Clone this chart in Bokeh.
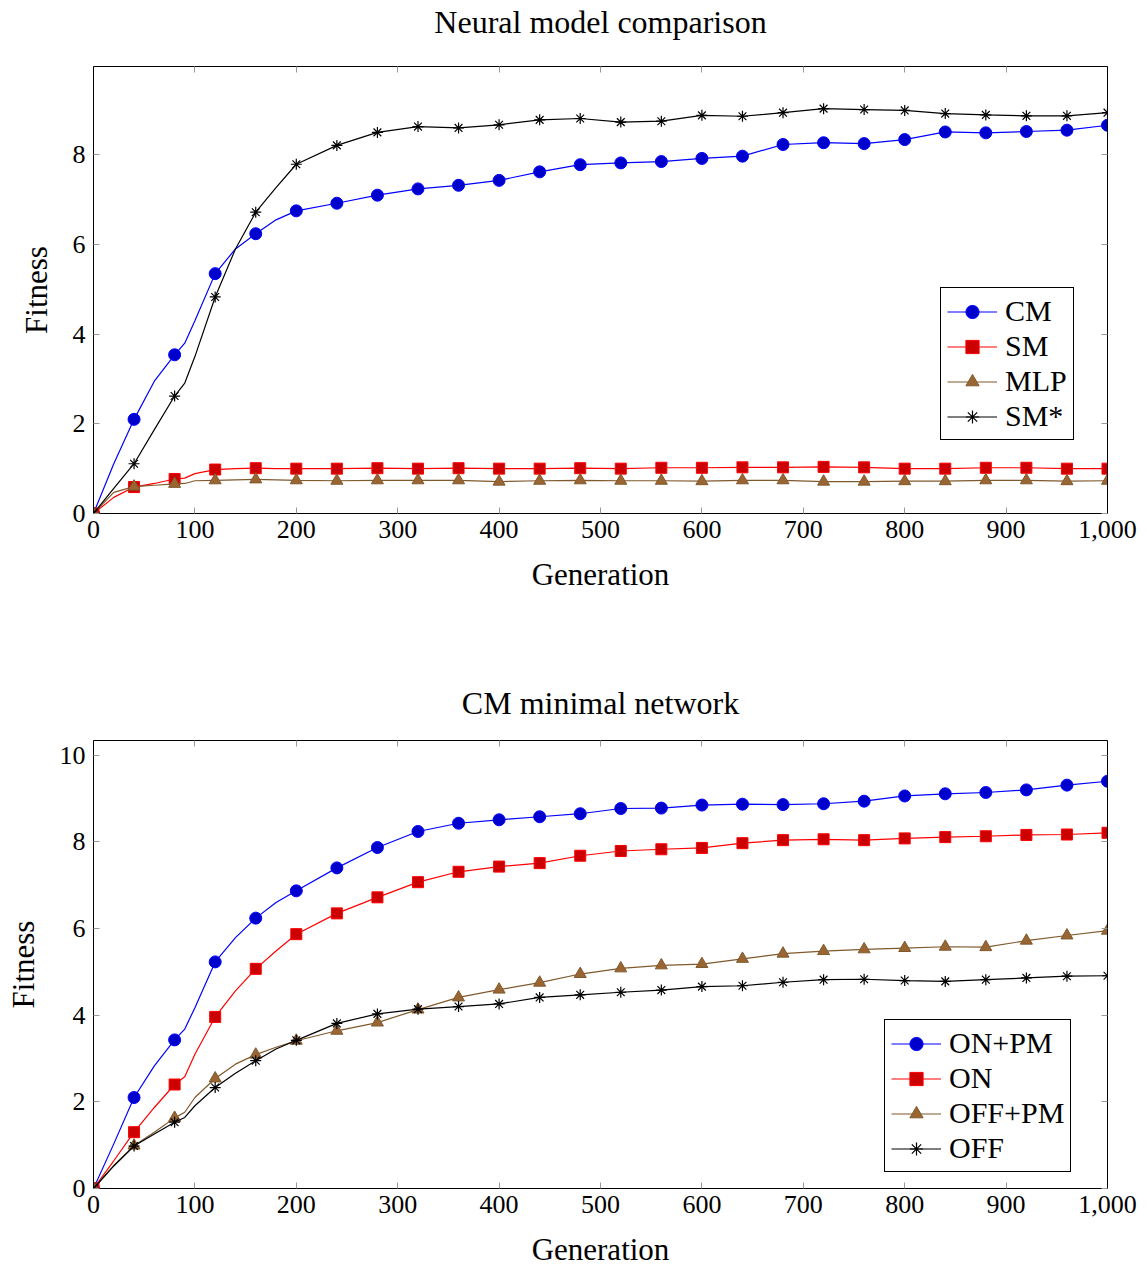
from bokeh.plotting import figure
from bokeh.layouts import column
from bokeh.models import (Range1d, FixedTicker, LinearAxis, NumeralTickFormatter,
                          Legend, LegendItem, ColumnDataSource, CustomLabelingPolicy)
from bokeh.embed import file_html
from bokeh.resources import INLINE

# ---------------- data ----------------
GEN = [0, 20, 40, 60, 80, 90, 100, 120, 140, 160, 180, 200,
       240, 280, 320, 360, 400, 440, 480, 520, 560, 600, 640, 680,
       720, 760, 800, 840, 880, 920, 960, 1000]

# Neural model comparison
CM = [0, 1.11, 2.10, 2.95, 3.54, 3.80, 4.30, 5.35, 5.90, 6.24, 6.55, 6.75,
      6.92, 7.10, 7.24, 7.32, 7.43, 7.62, 7.78, 7.82, 7.85, 7.92, 7.97, 8.23,
      8.27, 8.25, 8.34, 8.51, 8.49, 8.52, 8.55, 8.66]
SM = [0, 0.36, 0.59, 0.67, 0.77, 0.79, 0.89, 0.98, 1.00, 1.01, 1.00, 1.00,
      1.00, 1.01, 1.00, 1.01, 1.00, 1.00, 1.01, 1.00, 1.02, 1.02, 1.03, 1.03,
      1.04, 1.03, 1.00, 1.00, 1.02, 1.02, 1.00, 1.00]
MLP = [0, 0.47, 0.60, 0.63, 0.66, 0.67, 0.73, 0.74, 0.75, 0.76, 0.75, 0.74,
       0.73, 0.74, 0.74, 0.74, 0.71, 0.73, 0.74, 0.73, 0.73, 0.72, 0.74, 0.74,
       0.71, 0.71, 0.72, 0.72, 0.74, 0.74, 0.72, 0.73]
SM_STAR = [0, 0.56, 1.11, 1.87, 2.62, 2.91, 3.50, 4.83, 5.90, 6.72, 7.27, 7.79,
           8.21, 8.50, 8.63, 8.60, 8.67, 8.78, 8.81, 8.73, 8.75, 8.88, 8.86, 8.94,
           9.03, 9.01, 8.99, 8.92, 8.89, 8.87, 8.87, 8.94]

# CM minimal network
ON_PM = [0, 1.03, 2.10, 2.83, 3.43, 3.68, 4.17, 5.23, 5.79, 6.24, 6.60, 6.87,
         7.40, 7.87, 8.24, 8.43, 8.51, 8.58, 8.65, 8.77, 8.78, 8.85, 8.87, 8.86,
         8.88, 8.94, 9.06, 9.11, 9.14, 9.20, 9.31, 9.40]
ON = [0, 0.64, 1.30, 1.87, 2.40, 2.58, 3.10, 3.96, 4.56, 5.07, 5.48, 5.87,
      6.35, 6.72, 7.07, 7.31, 7.43, 7.51, 7.68, 7.79, 7.83, 7.86, 7.97, 8.04,
      8.06, 8.04, 8.08, 8.11, 8.13, 8.16, 8.17, 8.21]
OFF_PM = [0, 0.53, 0.99, 1.30, 1.63, 1.76, 2.10, 2.54, 2.87, 3.09, 3.26, 3.41,
          3.64, 3.83, 4.13, 4.41, 4.59, 4.75, 4.95, 5.08, 5.15, 5.18, 5.30, 5.42,
          5.48, 5.52, 5.55, 5.58, 5.57, 5.72, 5.84, 5.95]
OFF = [0, 0.52, 0.98, 1.26, 1.53, 1.64, 1.91, 2.33, 2.66, 2.95, 3.22, 3.42,
       3.81, 4.03, 4.14, 4.20, 4.26, 4.41, 4.47, 4.53, 4.58, 4.66, 4.68, 4.76,
       4.82, 4.83, 4.80, 4.78, 4.82, 4.86, 4.90, 4.91]

TITLES = ["Neural model comparison", "CM minimal network"]
X_TICKS = [0, 100, 200, 300, 400, 500, 600, 700, 800, 900, 1000]
Y_TICKS_TOP = [0, 2, 4, 6, 8]
Y_TICKS_BOTTOM = [0, 2, 4, 6, 8, 10]

FONT = "Liberation Serif"

STYLES = {
    "blue":  dict(line="#0000ff", fill="#0000cc", marker="circle", size=12),
    "red":   dict(line="#ff0000", fill="#cc0000", marker="square", size=11),
    "brown": dict(line="#80592d", fill="#996633", marker="triangle", size=12),
    "black": dict(line="#000000", fill="#000000", marker="asterisk", size=11),
}

NO_LABELS = CustomLabelingPolicy(code="""
    for (const i of indices) { indices.unset(i) }
    return indices
""")


def style_axis(ax, ticks, show_labels=True):
    ax.ticker = FixedTicker(ticks=ticks)
    ax.major_tick_in = 6
    ax.major_tick_out = 0
    ax.minor_tick_in = 0
    ax.minor_tick_out = 0
    ax.major_tick_line_color = "#999999"
    ax.axis_line_color = "black"
    ax.major_label_text_font = FONT
    ax.major_label_text_color = "black"
    ax.axis_label_text_color = "black"
    if show_labels:
        ax.major_label_text_font_size = "26px"
    else:
        ax.major_label_text_font_size = "1px"
        ax.major_label_standoff = 0
        ax.major_label_policy = NO_LABELS


def make_fig(title, ymax, yticks, series, legend_loc, height, border_top,
             border_bottom, ylab_standoff, title_standoff):
    p = figure(width=1147, height=height,
               x_range=Range1d(0, 1000), y_range=Range1d(0, ymax),
               output_backend="svg", toolbar_location=None,
               min_border_left=93, min_border_right=40,
               min_border_top=border_top, min_border_bottom=border_bottom)
    p.xgrid.visible = False
    p.ygrid.visible = False
    p.outline_line_color = "black"
    p.outline_line_width = 1
    p.background_fill_color = "white"
    p.border_fill_color = "white"

    xa = p.xaxis[0]
    style_axis(xa, X_TICKS)
    xa.formatter = NumeralTickFormatter(format="0,0")
    xa.major_label_standoff = 7
    xa.axis_label = "Generation"
    xa.axis_label_text_font = FONT
    xa.axis_label_text_font_size = "31px"
    xa.axis_label_text_font_style = "normal"
    xa.axis_label_standoff = 16

    ya = p.yaxis[0]
    style_axis(ya, yticks)
    ya.major_label_standoff = 8
    ya.axis_label = "Fitness"
    ya.axis_label_text_font = FONT
    ya.axis_label_text_font_size = "31px"
    ya.axis_label_text_font_style = "normal"
    ya.axis_label_standoff = ylab_standoff

    # mirrored ticks on top (its axis label carries the chart title)
    top = LinearAxis()
    style_axis(top, X_TICKS, show_labels=False)
    top.axis_label = title
    top.axis_label_text_font = FONT
    top.axis_label_text_font_size = "32px"
    top.axis_label_text_font_style = "normal"
    top.axis_label_standoff = title_standoff
    p.add_layout(top, "above")
    right = LinearAxis()
    style_axis(right, yticks, show_labels=False)
    p.add_layout(right, "right")

    items = []
    for label, ys, key in series:
        st = STYLES[key]
        lr = p.line(GEN, ys, line_color=st["line"], line_width=1.2)
        mx = [g for g in GEN if g % 40 == 0]
        my = [v for g, v in zip(GEN, ys) if g % 40 == 0]
        src = ColumnDataSource(dict(x=mx, y=my))
        if st["marker"] == "asterisk":
            mr = p.scatter("x", "y", source=src, marker="asterisk", size=st["size"],
                           line_color=st["line"], line_width=1.2)
        else:
            mr = p.scatter("x", "y", source=src, marker=st["marker"], size=st["size"],
                           fill_color=st["fill"], line_color=st["line"], line_width=1)
        items.append(LegendItem(label=label, renderers=[lr, mr]))

    legend = Legend(items=items, location=legend_loc)
    legend.border_line_color = "black"
    legend.border_line_width = 1
    legend.border_line_alpha = 1
    legend.background_fill_color = "white"
    legend.background_fill_alpha = 1
    legend.label_text_font = FONT
    legend.label_text_font_size = "30px"
    legend.label_text_color = "black"
    legend.glyph_width = 50
    legend.glyph_height = 33
    legend.label_height = 33
    legend.label_standoff = 8
    legend.spacing = 1
    legend.padding = 6
    legend.margin = 0
    p.add_layout(legend)
    return p


p1 = make_fig(TITLES[0], 9.97, Y_TICKS_TOP,
              [("CM", CM, "blue"), ("SM", SM, "red"),
               ("MLP", MLP, "brown"), ("SM*", SM_STAR, "black")],
              (847, 73), 640, 66, 127, 16, 23)
p2 = make_fig(TITLES[1], 10.34, Y_TICKS_BOTTOM,
              [("ON+PM", ON_PM, "blue"), ("ON", ON, "red"),
               ("OFF+PM", OFF_PM, "brown"), ("OFF", OFF, "black")],
              (791, 16), 629, 100, 81, 16, 16)

layout = column(p1, p2, spacing=0)
open("out.html", "w").write(file_html(layout, INLINE))
